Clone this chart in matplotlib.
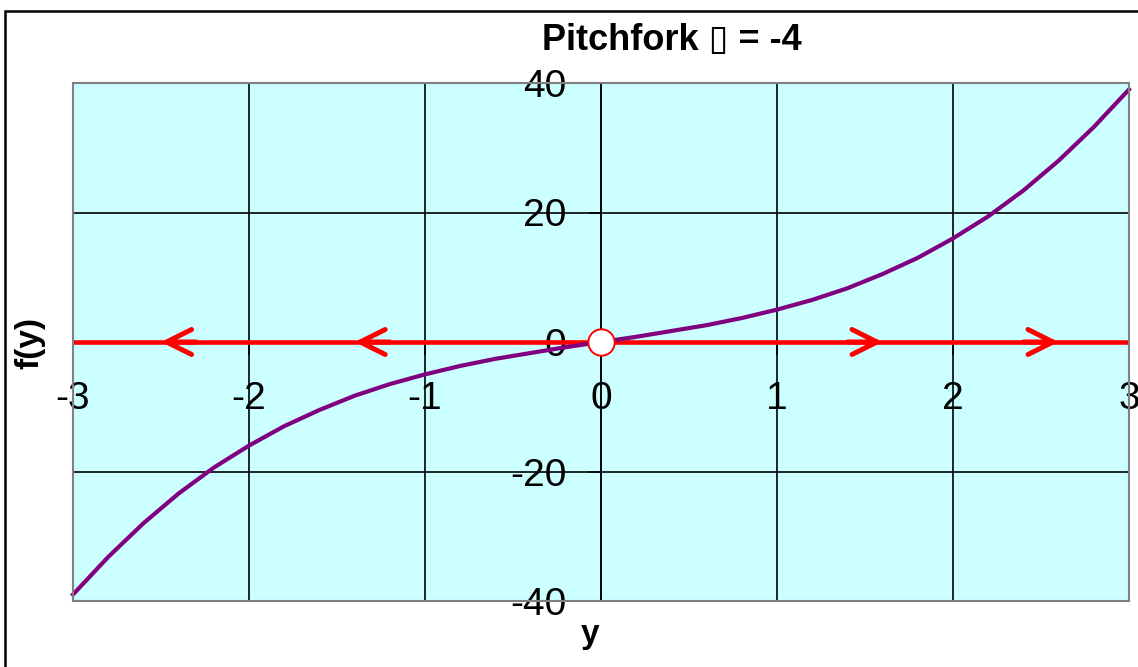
import matplotlib
matplotlib.use("Agg")
import matplotlib.pyplot as plt
from matplotlib.patches import Rectangle

plt.rcParams['axes.unicode_minus'] = False

# f(y) for the pitchfork, sampled every 0.2
y_vals = [-3.0, -2.8, -2.6, -2.4, -2.2, -2.0, -1.8, -1.6, -1.4, -1.2, -1.0,
          -0.8, -0.6, -0.4, -0.2, 0.0, 0.2, 0.4, 0.6, 0.8, 1.0,
          1.2, 1.4, 1.6, 1.8, 2.0, 2.2, 2.4, 2.6, 2.8, 3.0]
f_vals = [-39.0, -33.2, -28.0, -23.4, -19.4, -16.0, -13.0, -10.5, -8.3, -6.5, -5.0,
          -3.7, -2.6, -1.7, -0.8, 0.0, 0.8, 1.7, 2.6, 3.7, 5.0,
          6.5, 8.3, 10.5, 13.0, 16.0, 19.4, 23.4, 28.0, 33.2, 39.0]

# phase line, flow arrows and the equilibrium point
phase_y = [-3, 3]
phase_f = [0, 0]
arrow_tips = [-2.5, -1.4, 1.6, 2.6]
arrow_dirs = [-1, -1, 1, 1]
equil_y = [0]
equil_f = [0]

x_ticks = [-3, -2, -1, 0, 1, 2, 3]
y_ticks = [-40, -20, 0, 20, 40]

tick_font = ['Liberation Sans', 'DejaVu Sans']
bold_font = ['Liberation Sans', 'DejaVu Sans']

fig = plt.figure(figsize=(11.38, 6.67), dpi=100)
fig.patch.set_facecolor('white')

# outer frame
fig.add_artist(Rectangle((0.0045, -0.02), 1.1, 1.0035, transform=fig.transFigure,
                         fill=False, edgecolor='black', lw=1.8))

ax = fig.add_axes([73 / 1138, 1 - 601 / 667, (1129 - 73) / 1138, (601 - 83) / 667])
ax.set_facecolor('#CCFFFF')
ax.set_xlim(-3, 3)
ax.set_ylim(-40, 40)
ax.set_xticks(x_ticks)
ax.set_yticks(y_ticks)
ax.grid(True, color='black', lw=1.2, zorder=1)
ax.set_axisbelow(True)

ax.spines['left'].set_position(('data', 0))
ax.spines['bottom'].set_position(('data', 0))
for s in ['left', 'bottom']:
    ax.spines[s].set_color('black')
    ax.spines[s].set_linewidth(1.2)
for s in ['top', 'right']:
    ax.spines[s].set_visible(False)
ax.add_patch(Rectangle((0, 0), 1, 1, transform=ax.transAxes, fill=False,
                       edgecolor='#808080', lw=1.5, clip_on=False, zorder=6))

ax.tick_params(axis='x', direction='out', length=9, width=1.2, pad=19, labelsize=28)
ax.tick_params(axis='y', direction='out', length=9, width=1.2, pad=16, labelsize=28)
for lab in ax.get_xticklabels() + ax.get_yticklabels():
    lab.set_family(tick_font)

ax.plot(phase_y, phase_f, color='#FF0000', lw=3.3, zorder=3, solid_capstyle='butt')
for tip, d in zip(arrow_tips, arrow_dirs):
    ax.annotate('', xy=(tip, 0), xytext=(tip - d * 0.2, 0),
                arrowprops=dict(arrowstyle='->,head_length=0.6,head_width=0.3',
                                color='#FF0000', lw=3.6, mutation_scale=30,
                                shrinkA=0, shrinkB=0), zorder=3)

ax.plot(y_vals, f_vals, color='#800080', lw=3.0, zorder=4, clip_on=False)
ax.plot(equil_y, equil_f, 'o', ms=19, mfc='white', mec='#FF0000', mew=1.4,
        zorder=5, clip_on=False)

fig.text(672 / 1138, 1 - 41 / 667, 'Pitchfork \u25af = -4', ha='center', va='center',
         fontsize=26, fontweight='bold', family=bold_font)
fig.text(30 / 1138, 1 - 343 / 667, 'f(y)', rotation=90, ha='center', va='center',
         fontsize=24, fontweight='bold', family=bold_font)
fig.text(590 / 1138, 1 - 634 / 667, 'y', ha='center', va='center',
         fontsize=24, fontweight='bold', family=bold_font)

fig.savefig('out.png', dpi=100)
